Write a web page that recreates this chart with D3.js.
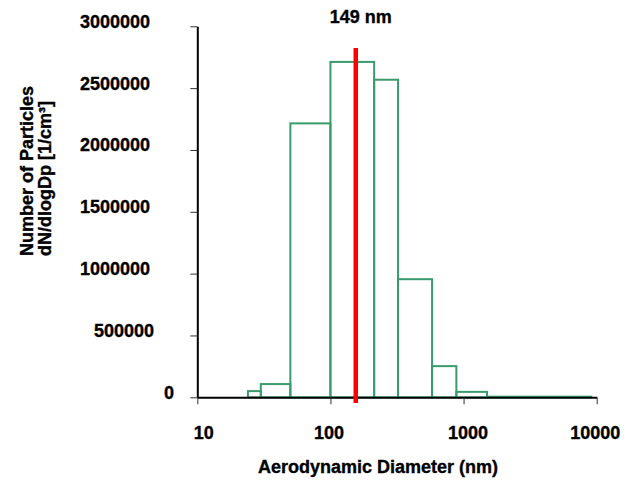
<!DOCTYPE html>
<html>
<head>
<meta charset="utf-8">
<script src="https://cdn.jsdelivr.net/npm/d3@7"></script>
<style>
  html, body { margin: 0; padding: 0; background: #fff; }
  text { font-family: "Liberation Sans", Arial, sans-serif; font-weight: bold; fill: #000; stroke: #000; stroke-width: 0.35px; }
</style>
</head>
<body>
<svg id="chart" width="627" height="485"></svg>
<script>
// ---- data ----
const binEdges = [24, 30, 50, 100, 213, 322, 580, 883, 1500, 9100];
const binValues = [50000, 107000, 2215000, 2712000, 2568000, 955000, 252000, 44000, 5000];
const markerDiameter = 155;
const markerLabel = "149 nm";
const xTickValues = [10, 100, 1000, 10000];
const xTickLabels = ["10", "100", "1000", "10000"];
const yTickValues = [0, 500000, 1000000, 1500000, 2000000, 2500000, 3000000];
const yTickLabels = ["0", "500000", "1000000", "1500000", "2000000", "2500000", "3000000"];
const xTitle = "Aerodynamic Diameter (nm)";
const yTitleLines = ["Number of Particles", "dN/dlogDp [1/cm³]"];

// ---- layout ----
const svg = d3.select("#chart");
svg.append("rect").attr("width", 627).attr("height", 485).attr("fill", "#fff");

const x = d3.scaleLog().domain([10, 10000]).range([197.3, 596.7]);
const y = d3.scaleLinear().domain([0, 3000000]).range([397.3, 26.3]);

const bins = binValues.map((v, i) => ({ x0: binEdges[i], x1: binEdges[i + 1], v }));

// bars (outline only)
svg.append("g").selectAll("rect").data(bins).join("rect")
  .attr("x", d => x(d.x0))
  .attr("y", d => y(d.v))
  .attr("width", d => x(d.x1) - x(d.x0))
  .attr("height", d => y(0) - y(d.v))
  .attr("fill", "none")
  .attr("stroke", "#3a9b6c")
  .attr("stroke-width", 2);

// x axis
const xNudge = { 10: 6, 100: -2, 1000: 4, 10000: -2 };
const xAxis = d3.axisBottom(x)
  .tickValues(xTickValues)
  .tickFormat((d, i) => xTickLabels[i])
  .tickSizeInner(7).tickSizeOuter(0).tickPadding(22);
const gx = svg.append("g").attr("transform", `translate(0,${y(0)})`).call(xAxis);
gx.select(".domain").attr("stroke", "#000").attr("stroke-width", 2);
gx.selectAll(".tick line").attr("stroke", "#333").attr("stroke-width", 1);
gx.selectAll(".tick text")
  .attr("font-size", 18)
  .attr("font-family", "Liberation Sans, Arial, sans-serif")
  .attr("font-weight", "bold")
  .attr("fill", "#000")
  .attr("dy", 0)
  .attr("y", 42)
  .attr("dx", d => xNudge[d] || 0);

// y axis
const yNudge = { 0: 24, 500000: 4 };
const yAxis = d3.axisLeft(y)
  .tickValues(yTickValues)
  .tickFormat((d, i) => yTickLabels[i])
  .tickSizeInner(7).tickSizeOuter(0).tickPadding(40.3);
const gy = svg.append("g").attr("transform", `translate(${x(10)},0)`).call(yAxis);
gy.select(".domain").attr("stroke", "#000").attr("stroke-width", 2);
gy.selectAll(".tick line").attr("stroke", "#333").attr("stroke-width", 1);
gy.selectAll(".tick text")
  .attr("font-size", 18)
  .attr("font-family", "Liberation Sans, Arial, sans-serif")
  .attr("font-weight", "bold")
  .attr("fill", "#000")
  .attr("dy", 1)
  .attr("dominant-baseline", "alphabetic")
  .attr("dx", d => yNudge[d] || 0);

// marker line
svg.append("line")
  .attr("x1", x(markerDiameter)).attr("x2", x(markerDiameter))
  .attr("y1", 48).attr("y2", 403)
  .attr("stroke", "#ff0000").attr("stroke-width", 4.5);

svg.append("text")
  .attr("x", x(markerDiameter) + 5).attr("y", 23)
  .attr("text-anchor", "middle")
  .attr("font-size", 18)
  .text(markerLabel);

// titles
svg.append("text")
  .attr("x", 378).attr("y", 473)
  .attr("text-anchor", "middle")
  .attr("font-size", 18)
  .text(xTitle);

const yt = svg.append("g").attr("transform", "translate(0,256) rotate(-90)");
yt.selectAll("text").data(yTitleLines).join("text")
  .attr("x", 0)
  .attr("y", (d, i) => i === 0 ? 33 : 51)
  .attr("text-anchor", "start")
  .attr("font-size", 18)
  .text(d => d);
</script>
</body>
</html>
